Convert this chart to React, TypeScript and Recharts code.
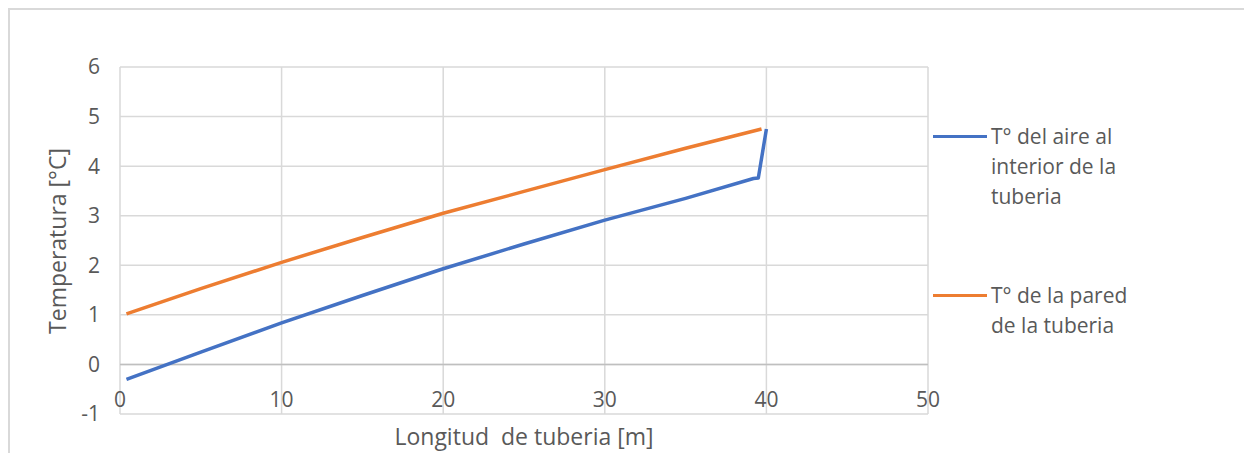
import React from "react";
import { LineChart, Line, XAxis, YAxis, CartesianGrid, ReferenceLine } from "recharts";

// longitud [m] vs temperatura [°C]
const airX = [0.4, 5, 10, 15, 20, 25, 30, 35, 39.2, 39.5, 40.0];
const airT = [-0.3, 0.25, 0.84, 1.39, 1.93, 2.43, 2.91, 3.35, 3.75, 3.76, 4.75];
const wallX = [0.4, 5, 10, 15, 20, 25, 30, 35, 39.7];
const wallT = [1.02, 1.53, 2.06, 2.56, 3.05, 3.49, 3.93, 4.36, 4.75];

const xTicks = [0, 10, 20, 30, 40, 50];
const yTicks = [-1, 0, 1, 2, 3, 4, 5, 6];

const airName = ["T° del aire al", "interior de la", "tuberia"];
const wallName = ["T° de la pared", "de la tuberia"];

const airData = airX.map((x, i) => ({ x, y: airT[i] }));
const wallData = wallX.map((x, i) => ({ x, y: wallT[i] }));

const FONT = "'Open Sans', Lato, sans-serif";
const FS = 21;
const TITLE_FS = 23;
const TEXT = "#595959";
const BLUE = "#4472C4";
const ORANGE = "#ED7D31";

const XTick = ({ x, y, payload }: any) => (
  <text x={x} y={y - 17} textAnchor="middle" dominantBaseline="central" fill={TEXT} fontSize={FS} fontFamily={FONT}>
    {payload.value}
  </text>
);

function LegendItem({ top, color, lines }: { top: number; color: string; lines: string[] }) {
  return (
    <div style={{ position: "absolute", left: 925, top }}>
      <div style={{ position: "absolute", left: 0, top: 14, width: 54, height: 3, background: color }} />
      <div style={{ position: "absolute", left: 58, top: 0, width: 260, lineHeight: "30px", fontSize: FS, color: TEXT, fontFamily: FONT }}>
        {lines.map((l) => (
          <div key={l}>{l}</div>
        ))}
      </div>
    </div>
  );
}

export default function App() {
  return (
    <div style={{ position: "relative", width: 1244, height: 445, background: "#fff" }}>
      <div style={{ position: "absolute", left: 0, top: 0, width: 1244, height: 445, borderLeft: "2px solid #d9d9d9", borderTop: "2px solid #d9d9d9", boxSizing: "border-box" }} />
      <div style={{ position: "absolute", left: 0, top: 0 }}>
        <LineChart width={1244} height={445} margin={{ top: 59, right: 324, left: 32, bottom: 0 }}>
          <CartesianGrid stroke="#d9d9d9" strokeWidth={1.5} />
          <XAxis
            type="number"
            dataKey="x"
            domain={[0, 50]}
            ticks={xTicks}
            height={39}
            axisLine={false}
            tickLine={false}
            tickSize={0}
            tick={<XTick />}
            allowDataOverflow
          />
          <YAxis
            type="number"
            domain={[-1, 6]}
            ticks={yTicks}
            width={80}
            axisLine={false}
            tickLine={false}
            tickSize={0}
            tickMargin={20}
            tick={{ fill: TEXT, fontSize: FS, fontFamily: FONT }}
          />
          <ReferenceLine y={0} stroke="#bfbfbf" strokeWidth={1.5} />
          <Line data={airData} dataKey="y" type="linear" stroke={BLUE} strokeWidth={3.5} dot={false} isAnimationActive={false} strokeLinejoin="round" />
          <Line data={wallData} dataKey="y" type="linear" stroke={ORANGE} strokeWidth={3.5} dot={false} isAnimationActive={false} strokeLinejoin="round" />
        </LineChart>
      </div>
      <div style={{ position: "absolute", left: 32, top: 59, width: 30, height: 347 }}>
        <div style={{ position: "absolute", left: 17, top: 174, transform: "translate(-50%, -50%) rotate(-90deg)", whiteSpace: "nowrap", fontSize: TITLE_FS, color: TEXT, fontFamily: FONT }}>
          Temperatura [°C]
        </div>
      </div>
      <div style={{ position: "absolute", left: 112, top: 412, width: 808, textAlign: "center", whiteSpace: "pre", fontSize: TITLE_FS, color: TEXT, fontFamily: FONT }}>
        {"Longitud  de tuberia [m]"}
      </div>
      <LegendItem top={113} color={BLUE} lines={airName} />
      <LegendItem top={272} color={ORANGE} lines={wallName} />
    </div>
  );
}
